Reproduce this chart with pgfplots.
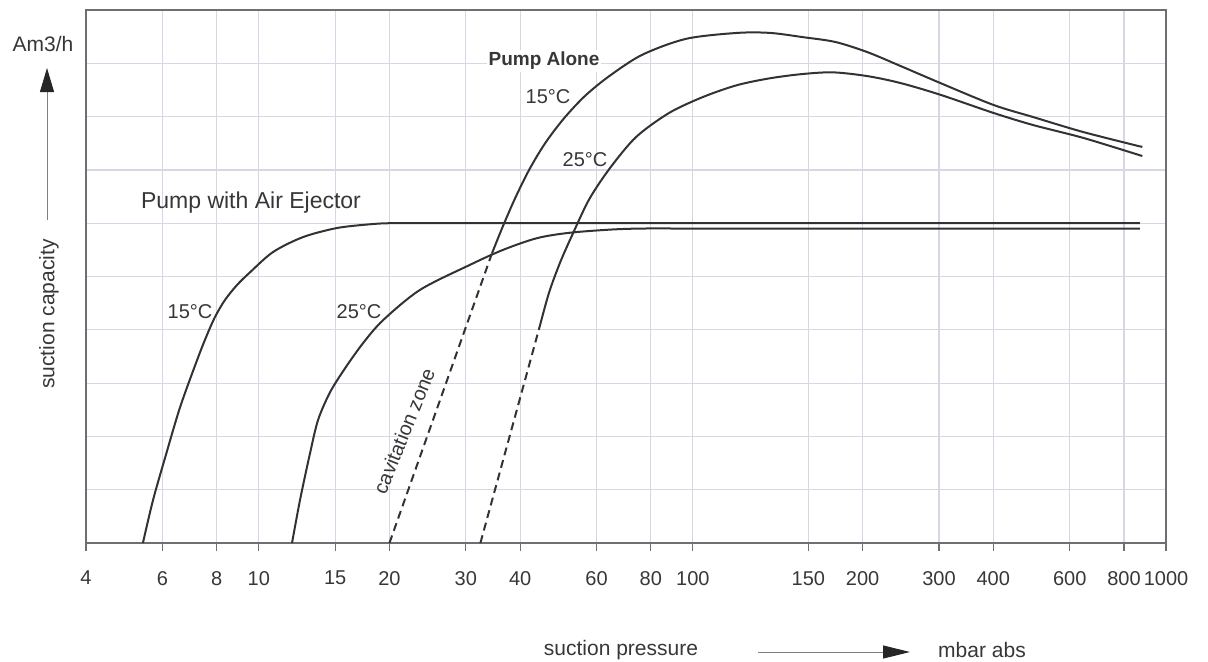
\documentclass[border=0pt]{standalone}
\usepackage{pgfplots}
\pgfplotsset{compat=1.18}
\usepackage{fontspec}
\setmainfont{Liberation Sans}
\usetikzlibrary{arrows.meta}
\definecolor{gridc}{RGB}{214,214,228}
\definecolor{axc}{RGB}{110,110,115}
\definecolor{ink}{RGB}{50,50,50}
\definecolor{txt}{RGB}{55,55,55}

\pgfplotstableread{
x y
5.41 0
5.71 0.81
6.11 1.65
6.59 2.55
7.21 3.43
7.56 3.86
7.93 4.24
8.36 4.56
8.91 4.84
9.55 5.08
10.79 5.46
12.65 5.74
15.15 5.91
18.05 5.98
20.07 6.0
25 6.0
30 6.0
40 6.0
60 6.0
100 6.0
150 6.0
250 6.0
400 6.0
600 6.0
870 6.0
}\ejectorA
\pgfplotstableread{
x y
11.93 0
12.45 0.81
13.13 1.69
13.70 2.31
14.60 2.83
15.81 3.28
17.39 3.75
19.33 4.18
23.53 4.75
30.68 5.22
36.54 5.50
43.77 5.72
51.91 5.82
64.5 5.88
76.4 5.9
100 5.9
150 5.9
250 5.9
400 5.9
600 5.9
870 5.9
}\ejectorB
\pgfplotstableread{
x y
20 0
34.47 5.44
}\cavA
\pgfplotstableread{
x y
32.4 0
44.47 4.09
}\cavB
\pgfplotstableread{
x y
34.47 5.44
36.54 5.95
38.96 6.47
41.95 7.00
45.67 7.50
50.51 7.97
56.46 8.39
64.18 8.76
76.43 9.16
96.56 9.46
116.8 9.57
131.2 9.57
147.3 9.49
173.1 9.40
205.1 9.21
244.5 8.95
302 8.63
400 8.22
495 7.99
645 7.71
882 7.43
}\pumpA
\pgfplotstableread{
x y
44.47 4.09
46.68 4.71
49.49 5.27
52.74 5.78
57.71 6.45
64.5 7.04
74.06 7.62
88.2 8.07
103.7 8.37
116.8 8.59
131.2 8.72
147.3 8.80
171.2 8.83
205.1 8.76
244.5 8.63
302 8.41
400 8.07
495 7.84
645 7.60
882 7.26
}\pumpB

\begin{document}
\begin{tikzpicture}
\path[use as bounding box] (0,0) rectangle (604pt,330.5pt);
\begin{axis}[
  at={(43pt,59pt)}, anchor=south west,
  scale only axis, width=540pt, height=266.5pt,
  x coord trafo/.code={%
    \begingroup
    \pgfkeys{/pgf/fpu=false}%
    \pgfmathparse{ln(#1)/ln(10)}%
    \let\Lv\pgfmathresult
    \pgfmathparse{\Lv+0.0899*min(1,max(0,(\Lv-2)/0.1761))}%
    \global\let\mytrafores\pgfmathresult
    \endgroup
    \let\pgfmathresult\mytrafores
  },
  xmin=4, xmax=1000, ymin=0, ymax=10,
  xtick={4,6,8,10,15,20,30,40,60,80,100,150,200,300,400,600,800,1000},
  xticklabels={4,6,8,10,15,20,30,40,60,80,100,150,200,300,400,600,800,1000},
  ytick={0,1,...,10}, yticklabels={},
  ytick style={draw=none},
  xtick pos=bottom, tick align=outside,
  major tick length=4pt,
  xtick style={axc, line width=0.6pt},
  grid=major,
  major grid style={gridc, line width=0.6pt},
  axis line style={axc, line width=0.8pt},
  xticklabel style={font=\fontsize{10}{12}\selectfont, text=txt, yshift=-6.5pt},
  /pgf/number format/assume math mode=true,
  clip=false,
]
\addplot[ink, line width=1pt, smooth] table {\ejectorA};
\addplot[ink, line width=1pt, smooth] table {\ejectorB};
\addplot[ink, line width=1pt, dash pattern=on 4pt off 2.5pt] table {\cavA};
\addplot[ink, line width=1pt, dash pattern=on 4pt off 2.5pt] table {\cavB};
\addplot[ink, line width=1pt, smooth] table {\pumpA};
\addplot[ink, line width=1pt, smooth] table {\pumpB};
\end{axis}
\begin{scope}[x=0.5pt, y=-0.5pt, yshift=330.5pt, every node/.style={text=txt, inner sep=1pt}]
\node[font=\fontsize{10.5}{12}\selectfont] at (43,44) {Am3/h};
\draw[gray, line width=0.5pt, -{Triangle[length=12pt,width=7pt,color=black!85]}] (47,220) -- (47,68);
\node[rotate=90, font=\fontsize{10.5}{12}\selectfont] at (49,314) {suction capacity};
\node[font=\fontsize{10.5}{12}\selectfont] at (621,650) {suction pressure};
\draw[gray, line width=0.5pt, -{Triangle[length=13.5pt,width=6.5pt,color=black!85]}] (758,652) -- (910,652);
\node[font=\fontsize{10.5}{12}\selectfont] at (982,650) {mbar abs};
\node[font=\fontsize{11.5}{13}\selectfont] at (251,203) {Pump with Air Ejector};
\node[font=\fontsize{10}{12}\selectfont] at (190,312) {15°C};
\node[font=\fontsize{10}{12}\selectfont] at (359,312) {25°C};
\node[fill=white, font=\bfseries\fontsize{9.5}{11}\selectfont] at (544,61) {Pump Alone};
\node[font=\fontsize{10}{12}\selectfont] at (548,97) {15°C};
\node[font=\fontsize{10}{12}\selectfont] at (585,160) {25°C};
\node[rotate=68, font=\fontsize{10}{12}\selectfont] at (404,431) {cavitation zone};
\end{scope}
\end{tikzpicture}
\end{document}
